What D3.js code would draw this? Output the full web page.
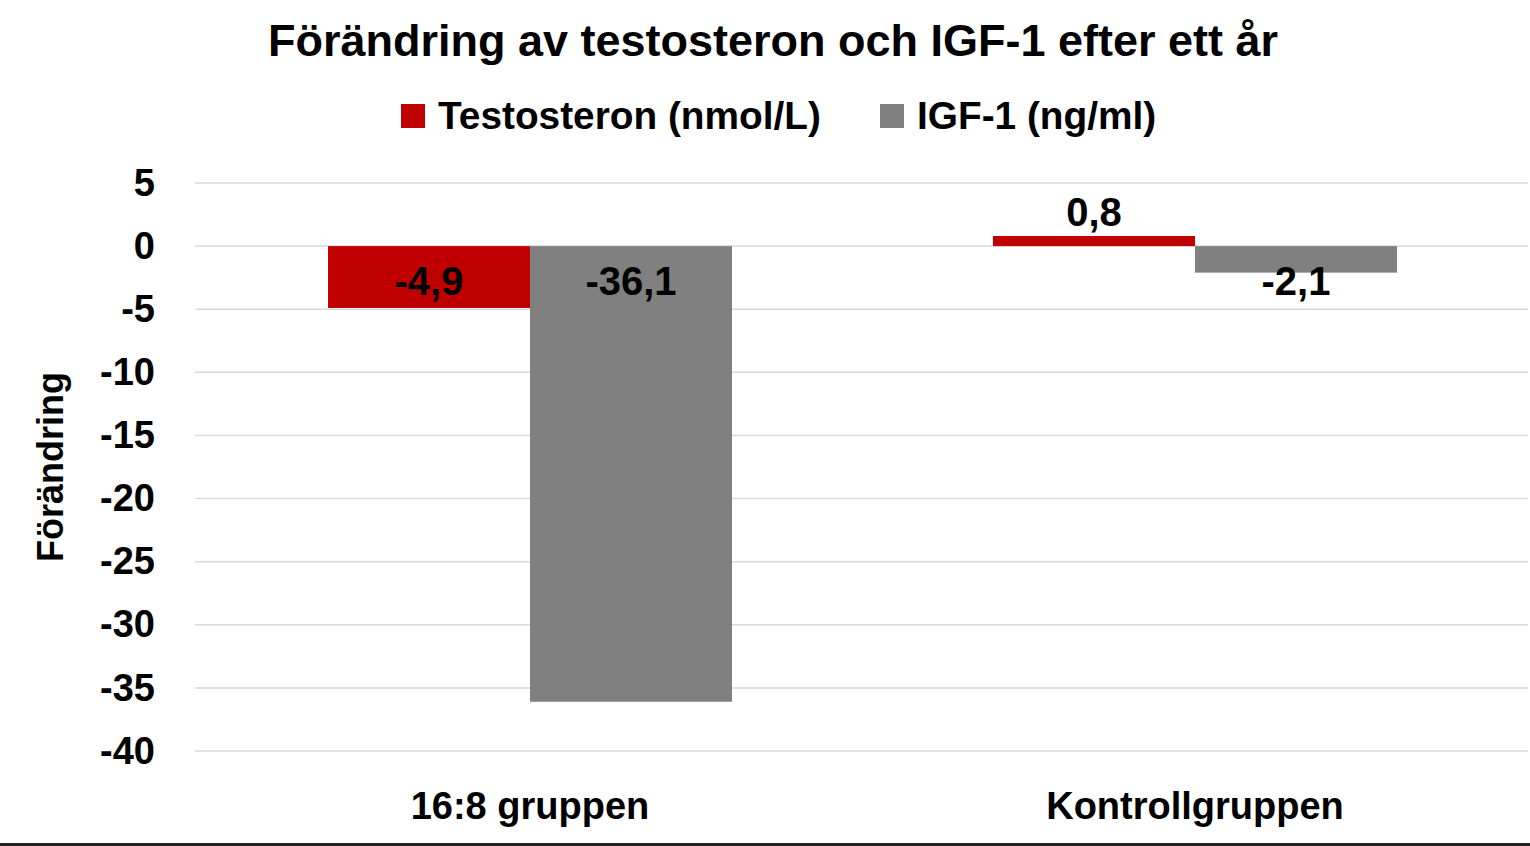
<!DOCTYPE html>
<html>
<head>
<meta charset="utf-8">
<script src="https://cdn.jsdelivr.net/npm/d3@7"></script>
<style>
  html, body { margin: 0; padding: 0; background: #fff; }
  text { font-family: "Liberation Sans", Arial, sans-serif; font-weight: bold; fill: #000; }
</style>
</head>
<body>
<script>
// données du graphique
const categories = ["16:8 gruppen", "Kontrollgruppen"];
const seriesNames = ["Testosteron (nmol/L)", "IGF-1 (ng/ml)"];
const testosteron = [-4.9, 0.8];
const igf1 = [-36.1, -2.1];
const yTicks = [5, 0, -5, -10, -15, -20, -25, -30, -35, -40];
const colors = ["#c00000", "#808080"];

const W = 1530, H = 846;
const svg = d3.select("body").append("svg")
    .attr("width", W)
    .attr("height", H);

// échelles
const y = d3.scaleLinear().domain([-40, 5]).range([751, 183]);
const x0 = d3.scaleBand().domain(categories).range([197.5, 1527.5]).padding(0);
const x1 = d3.scaleBand().domain(seriesNames).range([0, x0.bandwidth()])
    .paddingInner(0).paddingOuter(0.646);

// grille
svg.append("g")
    .selectAll("line")
    .data(yTicks)
    .join("line")
    .attr("x1", 195).attr("x2", 1528)
    .attr("y1", d => y(d)).attr("y2", d => y(d))
    .attr("stroke", "#d9d9d9")
    .attr("stroke-width", 1.5);

// axe y (labels seulement)
const yAxis = svg.append("g")
    .attr("transform", "translate(155,0)")
    .call(d3.axisLeft(y).tickValues(yTicks).tickSize(0).tickPadding(0)
        .tickFormat(d => String(d)));
yAxis.select(".domain").remove();
yAxis.selectAll("text")
    .attr("font-size", 38)
    .attr("font-family", "Liberation Sans, Arial, sans-serif")
    .attr("font-weight", "bold")
    .attr("fill", "#000");

// tableau pour les barres
const rows = categories.map((c, i) => ({
    cat: c,
    values: [
        { key: seriesNames[0], v: testosteron[i], color: colors[0] },
        { key: seriesNames[1], v: igf1[i], color: colors[1] }
    ]
}));

const groups = svg.append("g")
    .selectAll("g")
    .data(rows)
    .join("g")
    .attr("transform", d => `translate(${x0(d.cat)},0)`);

groups.selectAll("rect")
    .data(d => d.values)
    .join("rect")
    .attr("x", d => x1(d.key))
    .attr("width", x1.bandwidth())
    .attr("y", d => Math.min(y(0), y(d.v)))
    .attr("height", d => Math.abs(y(d.v) - y(0)))
    .attr("fill", d => d.color);

// étiquettes de données
const fmt = v => v.toFixed(1).replace(".", ",");
groups.selectAll("text.lab")
    .data(d => d.values)
    .join("text")
    .attr("class", "lab")
    .attr("x", d => x1(d.key) + x1.bandwidth() / 2)
    .attr("y", d => d.v < 0 ? y(0) + 34 : y(d.v) - 24)
    .attr("dy", "0.36em")
    .attr("text-anchor", "middle")
    .attr("font-size", 40)
    .text(d => fmt(d.v));

// catégories
svg.append("g")
    .selectAll("text")
    .data(categories)
    .join("text")
    .attr("x", d => x0(d) + x0.bandwidth() / 2)
    .attr("y", 819)
    .attr("text-anchor", "middle")
    .attr("font-size", 38)
    .text(d => d);

// titre
svg.append("text")
    .attr("x", 773)
    .attr("y", 56)
    .attr("text-anchor", "middle")
    .attr("font-size", 45)
    .text("Förändring av testosteron och IGF-1 efter ett år");

// titre axe y
svg.append("text")
    .attr("transform", "translate(63,467) rotate(-90)")
    .attr("text-anchor", "middle")
    .attr("font-size", 36)
    .text("Förändring");

// légende
const legendX = [401, 880];
const leg = svg.append("g")
    .selectAll("g")
    .data(seriesNames)
    .join("g")
    .attr("transform", (d, i) => `translate(${legendX[i]},104)`);
leg.append("rect")
    .attr("width", 24).attr("height", 24)
    .attr("fill", (d, i) => colors[i]);
leg.append("text")
    .attr("x", 37)
    .attr("y", 25)
    .attr("font-size", 38.8)
    .text(d => d);

// ligne du bas
svg.append("rect")
    .attr("x", 0).attr("y", 843)
    .attr("width", W).attr("height", 3)
    .attr("fill", "#222");
</script>
</body>
</html>
